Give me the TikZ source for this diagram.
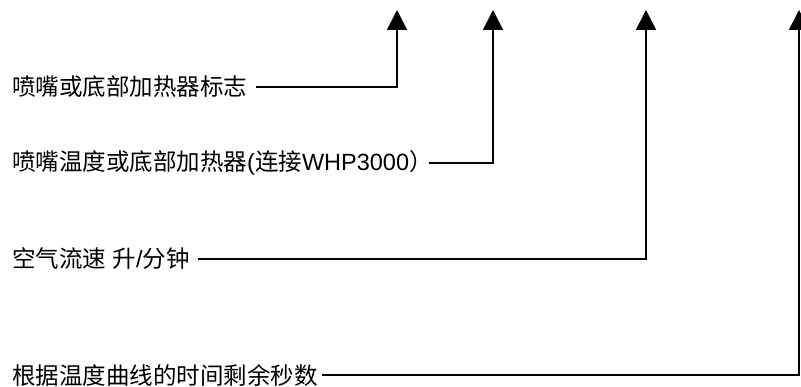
\documentclass[tikz,border=0pt]{standalone}
\usepackage{fontspec}
\setmainfont{Liberation Sans}
\newfontfamily\cjk{Noto Sans CJK SC}
\usetikzlibrary{arrows.meta}
\tikzset{
  lbl/.style={anchor=west, inner sep=0pt, font=\fontsize{23.5}{28}\selectfont},
  conn/.style={line width=1.7pt, -{Triangle[length=20pt,width=20pt]}},
}
\begin{document}
\begin{tikzpicture}[x=1pt,y=-1pt]
\useasboundingbox (0,0) rectangle (801,387);
\coordinate (tip1) at (397,10);
\coordinate (tip2) at (493,10);
\coordinate (tip3) at (646,10);
\coordinate (tip4) at (799,10);
\node[lbl] (t1) at (12,87) {\cjk 喷嘴或底部加热器标志};
\node[lbl] (t2) at (12,163) {{\cjk 喷嘴温度或底部加热器}({\cjk 连接}WHP3000{\cjk ）}};
\node[lbl] (t3) at (12,259) {{\cjk 空气流速} {\cjk 升}/{\cjk 分钟}};
\node[lbl] (t4) at (12,375) {\cjk 根据温度曲线的时间剩余秒数};
\draw[conn] ([xshift=9pt]t1.east) -| (tip1);
\draw[conn] ([xshift=-4pt]t2.east) -| (tip2);
\draw[conn] ([xshift=8pt]t3.east) -| (tip3);
\draw[conn] ([xshift=4pt]t4.east) -| (tip4);
\end{tikzpicture}
\end{document}
